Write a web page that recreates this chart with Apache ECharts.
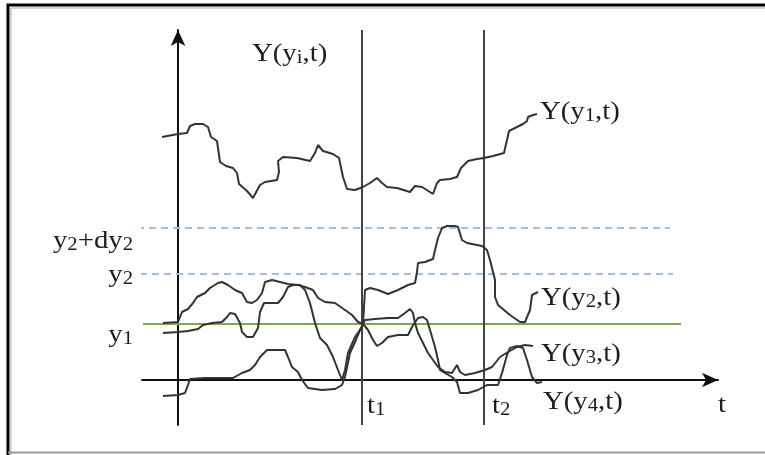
<!DOCTYPE html>
<html>
<head>
<meta charset="utf-8">
<script src="https://cdn.jsdelivr.net/npm/echarts@6/dist/echarts.min.js"></script>
<style>
html,body{margin:0;padding:0;background:#fff;}
#chart{width:765px;height:455px;}
</style>
</head>
<body>
<div id="chart"></div>
<script>
// Data units: t along horizontal axis, Y along vertical axis
const tY1 = [-1.6,0.0,0.9,1.2,1.7,2.5,3.0,3.3,3.9,4.2,4.8,5.5,5.9,6.1,6.9,7.5,8.2,8.7,9.9,10.1,10.0,10.5,11.9,13.2,13.7,14.0,14.5,15.5,16.1,16.5,16.9,17.7,18.5,19.2,19.9,20.4,20.9,21.9,23.2,23.7,24.4,25.5,25.9,26.2,27.2,27.9,28.3,29.0,29.9,30.6,31.5,32.6,32.9,33.1,33.7,34.1,34.5,34.9,35.0,35.5,35.9];
const vY1 = [24.3,24.6,24.7,25.4,25.6,25.6,25.3,24.3,23.9,21.8,21.4,21.2,20.7,19.6,18.9,18.2,19.5,19.8,20.0,20.8,21.9,22.3,22.2,21.9,22.7,23.5,22.9,22.6,22.2,20.3,19.1,19.0,19.3,19.7,20.2,19.7,19.3,19.2,18.8,19.4,19.3,18.6,19.7,20.0,20.1,20.3,21.2,21.9,22.1,22.2,22.4,22.7,24.0,24.9,25.2,25.4,25.6,25.9,26.3,26.5,26.6];

const tY2 = [-1.5,0.0,0.4,1.0,1.5,1.9,2.7,3.2,4.0,4.4,5.0,5.7,6.4,6.9,7.4,7.9,8.4,8.7,9.4,11.0,12.0,12.7,13.5,14.0,14.7,15.7,16.7,17.4,18.0,18.5,18.7,19.2,20.0,21.0,22.0,23.0,23.7,23.9,24.0,24.7,25.5,25.7,26.0,26.4,26.9,27.7,28.0,28.4,28.9,30.4,30.9,31.2,31.7,31.7,32.0,33.2,34.2,34.7,35.2,35.4,36.0];
const vY2 = [5.7,5.8,6.8,7.1,7.7,8.3,8.7,9.2,9.7,9.8,9.5,9.0,8.7,7.8,7.7,8.0,8.7,9.8,10.0,9.6,9.5,9.3,9.0,8.2,7.8,7.7,7.0,6.5,5.8,5.6,9.0,9.2,9.0,8.6,9.0,9.5,9.7,10.8,11.7,11.8,12.1,13.0,14.2,15.2,15.4,15.4,15.3,14.0,13.7,13.4,13.0,12.0,10.0,8.3,7.5,6.5,5.8,5.8,7.0,8.5,8.8];

const tY3 = [-1.5,0.0,1.0,2.0,2.5,3.4,4.4,4.9,5.2,5.7,6.2,6.4,6.9,7.5,8.0,8.2,8.6,10.0,10.5,11.0,11.5,12.2,12.7,13.2,13.7,14.2,14.9,15.5,16.0,16.4,16.7,17.0,17.7,18.4,18.5,18.7,19.7,21.0,22.0,22.7,23.2,23.5,23.7,24.0,24.7,25.0,25.5,26.0,26.7,27.4,27.9,28.2,28.7,29.7,30.7,31.4,32.2,33.0,33.9,34.7,35.5];
const vY3 = [4.7,4.8,4.9,5.1,5.5,5.7,5.8,6.3,6.7,6.6,5.7,4.8,4.3,4.3,5.2,6.8,7.7,7.7,8.3,9.3,9.5,9.5,9.0,7.7,5.7,4.2,3.5,2.3,1.0,0.0,1.0,2.7,4.3,5.3,5.6,6.0,6.1,6.2,6.2,6.7,7.1,6.7,5.7,4.7,3.3,2.7,2.0,1.3,0.8,0.7,1.5,0.8,0.5,0.7,1.0,1.3,2.3,2.8,3.3,3.5,3.4];

const tY4 = [-1.5,0.0,0.7,1.0,1.2,2.7,4.4,5.5,6.4,7.2,7.7,8.2,8.9,10.7,11.0,11.4,12.0,12.4,13.0,14.4,15.7,16.4,16.7,17.2,17.7,18.2,18.5,19.0,19.5,19.9,20.4,21.0,22.0,23.0,23.4,24.0,24.5,24.9,25.2,25.7,26.0,26.2,26.7,27.4,27.9,28.2,29.0,30.0,30.9,32.0,32.4,32.9,33.2,33.9,34.5,34.9,35.4,35.9,36.4];
const vY4 = [-1.6,-1.5,-1.3,-0.5,0.1,0.2,0.2,0.2,0.7,1.0,1.5,2.3,3.0,3.0,2.3,1.3,0.8,0.0,-0.8,-1.0,-0.9,-0.5,0.3,2.7,3.8,5.0,5.6,5.0,4.0,3.4,3.7,4.3,4.5,4.5,5.3,6.2,6.3,6.0,5.0,3.3,2.0,1.0,0.7,0.3,-0.2,-1.3,-1.3,-1.0,-0.5,-0.5,0.7,2.5,3.2,3.4,3.2,2.0,0.3,-0.3,-0.2];

const timeMarks = [18.4, 30.6];            // t1, t2
const levelNames = ['y2+dy2', 'y2', 'y1'];
const levelValues = [15.2, 10.6, 5.6];
const levelStart = [-4.1, -3.8, -3.5];
const levelEnd = [49.2, 49.5, 50.3];

const zip = (a, b) => a.map((v, i) => [v, b[i]]);

const chart = echarts.init(document.getElementById('chart'), null, {renderer: 'canvas'});
const curveStyle = {color: '#333', width: 2};
const serif = 'Liberation Serif';

function curve(name, t, v) {
  return {name, type: 'line', data: zip(t, v), showSymbol: false, symbol: 'none',
    lineStyle: curveStyle, silent: true, animation: false, clip: false, z: 5};
}
function level(i, color, type) {
  return {name: levelNames[i], type: 'line', symbol: 'none', showSymbol: false, silent: true, clip: false, z: 3,
    data: [[levelStart[i], levelValues[i]], [levelEnd[i], levelValues[i]]],
    lineStyle: {color, width: 2, type}};
}

const TXT = '#1c1c1c';
const rich = {
  n: {fontFamily: serif, fontSize: 25, color: TXT, lineHeight: 30, verticalAlign: 'bottom'},
  s: {fontFamily: serif, fontSize: 18, color: TXT, lineHeight: 11, verticalAlign: 'bottom'}
};
function label(text, x, y, align) {
  return {type: 'text', x, y, scaleX: 1.15, silent: true, z: 20,
    style: {text, rich, align: align || 'left', verticalAlign: 'middle', fill: TXT, font: '25px ' + serif}};
}

const option = {
  animation: false,
  grid: {left: 142, right: 47, top: 30, bottom: 30},
  xAxis: {type: 'value', min: -3.6, max: 54,
    axisLine: {onZero: true, symbol: ['none', 'arrow'], symbolSize: [11, 16], lineStyle: {color: '#111', width: 2}},
    axisTick: {show: false}, axisLabel: {show: false}, splitLine: {show: false}},
  yAxis: {type: 'value', min: -4.5, max: 35,
    axisLine: {show: true, onZero: true, symbol: ['none', 'arrow'], symbolSize: [11, 16], lineStyle: {color: '#111', width: 2}},
    axisTick: {show: false}, axisLabel: {show: false}, splitLine: {show: false}},
  series: [
    level(0, '#9dc0ea', [7, 5]),
    level(1, '#9dc0ea', [7, 5]),
    level(2, '#7fa650', 'solid'),
    curve('Y(y1,t)', tY1, vY1),
    curve('Y(y2,t)', tY2, vY2),
    curve('Y(y3,t)', tY3, vY3),
    Object.assign(curve('Y(y4,t)', tY4, vY4), {
      markLine: {silent: true, symbol: 'none', animation: false, label: {show: false},
        lineStyle: {color: '#444', width: 2, type: 'solid'},
        data: [{xAxis: timeMarks[0]}, {xAxis: timeMarks[1]}]}
    })
  ],
  graphic: [
    {type: 'rect', shape: {x: 8, y: 5, width: 770, height: 460}, style: {fill: 'none', stroke: '#000', lineWidth: 3}, silent: true},
    {type: 'line', shape: {x1: 11, y1: 8, x2: 765, y2: 8}, style: {stroke: '#aaa', lineWidth: 1}, silent: true},
    {type: 'line', shape: {x1: 11, y1: 8, x2: 11, y2: 455}, style: {stroke: '#aaa', lineWidth: 1}, silent: true},
    {type: 'line', shape: {x1: 8, y1: 452.5, x2: 765, y2: 452.5}, style: {stroke: '#999', lineWidth: 2}, silent: true},
    label('{n|Y(y}{s|i}{n|,t)}', 252, 52),
    label('{n|Y(y}{s|1}{n|,t)}', 540, 110),
    label('{n|Y(y}{s|2}{n|,t)}', 541, 296),
    label('{n|Y(y}{s|3}{n|,t)}', 541, 352),
    label('{n|Y(y}{s|4}{n|,t)}', 543, 400),
    label('{n|t}{s|1}', 367, 404),
    label('{n|t}{s|2}', 492, 404),
    label('{n|t}', 718, 403),
    label('{n|y}{s|2}{n|+dy}{s|2}', 133, 239, 'right'),
    label('{n|y}{s|2}', 133, 273, 'right'),
    label('{n|y}{s|1}', 133, 333, 'right')
  ]
};
chart.setOption(option);
</script>
</body>
</html>
